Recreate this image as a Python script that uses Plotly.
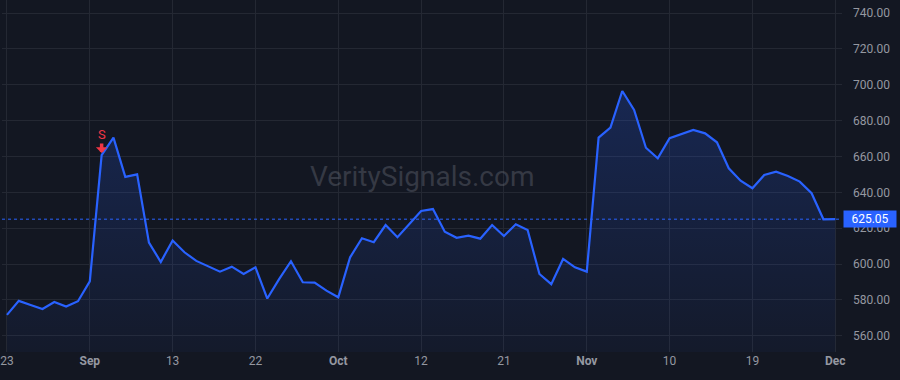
import plotly.graph_objects as go

# ---- data ----
values = [
    571.7, 579.5, 577.2, 575.0, 578.9, 576.3, 579.3, 590.4, 660.8, 670.5,
    648.6, 650.0, 612.0, 601.2, 613.2, 606.6, 601.8, 599.0, 595.8, 598.6,
    594.5, 598.2, 580.8, 591.6, 601.6, 589.9, 589.7, 585.2, 581.5, 603.8,
    614.4, 612.2, 621.8, 615.0, 622.2, 629.6, 630.7, 618.1, 614.7, 615.9,
    614.2, 621.8, 615.7, 622.2, 619.0, 594.5, 588.8, 602.9, 598.2, 595.8,
    670.5, 676.1, 696.5, 685.9, 664.9, 659.0, 670.2, 672.4, 674.8, 672.9,
    667.9, 653.4, 646.5, 642.3, 649.7, 651.5, 649.1, 646.0, 639.5, 625.0,
    625.05,
]
x_idx = list(range(len(values)))
tick_idx = [0, 7, 14, 21, 28, 35, 42, 49, 56, 63, 70]
tick_text = ["23", "<b>Sep</b>", "13", "22", "<b>Oct</b>", "12", "21",
             "<b>Nov</b>", "10", "19", "<b>Dec</b>"]
y_ticks = [560, 580, 600, 620, 640, 660, 680, 700, 720, 740]
last_price = 625.05
signal_idx = [8]
signal_label = ["S"]
watermark = "VeritySignals.com"

BG = "#131722"
GRID = "#242833"
BLUE = "#2962ff"
RED = "#f23645"
TXT = "#9598a1"

fig = go.Figure()
fig.add_trace(go.Scatter(
    x=x_idx, y=values, mode="lines",
    line=dict(color=BLUE, width=2.2),
    fill="tozeroy",
    fillgradient=dict(type="vertical", start=551, stop=700,
                      colorscale=[[0, "rgba(41,98,255,0.04)"],
                                  [1, "rgba(41,98,255,0.22)"]]),
    hoverinfo="skip",
))

fig.add_hline(y=last_price, line=dict(color=BLUE, width=1, dash="dot"))

for i, lab in zip(signal_idx, signal_label):
    fig.add_annotation(x=i, y=values[i], xref="x", yref="y",
                       text="", showarrow=True, ax=0, ay=-13,
                       arrowhead=1, arrowsize=0.55, arrowwidth=3.5,
                       arrowcolor=RED, standoff=2)
    fig.add_annotation(x=i, y=values[i], xref="x", yref="y",
                       text=lab, showarrow=False, yshift=21,
                       font=dict(color=RED, size=13, family="Roboto"))

fig.add_annotation(x=1, y=last_price, xref="paper", yref="y",
                   xanchor="left", text=f"{last_price:.2f}", showarrow=False,
                   bgcolor=BLUE, font=dict(color="white", size=12, family="Roboto"),
                   borderpad=1, xshift=1, width=50, align="center")

fig.add_annotation(x=0.5, y=0.5, xref="paper", yref="paper",
                   text=watermark, showarrow=False,
                   font=dict(color="rgba(120,123,134,0.35)", size=28, family="Roboto"))

fig.update_layout(
    width=900, height=380,
    margin=dict(l=0, r=58, t=0, b=28),
    paper_bgcolor=BG, plot_bgcolor=BG,
    showlegend=False,
    font=dict(family="Roboto", color=TXT, size=12),
    xaxis=dict(
        range=[-0.42, 70.57], tickmode="array", tickvals=tick_idx, ticktext=tick_text,
        showgrid=True, gridcolor=GRID, gridwidth=1, zeroline=False,
        showline=False, ticks="", tickfont=dict(color=TXT, size=12),
        ticklabeloverflow="allow",
    ),
    yaxis=dict(
        side="right", range=[551.0, 747.25], tickvals=y_ticks, tickformat=".2f",
        showgrid=True, gridcolor=GRID, gridwidth=1, zeroline=False,
        showline=False, ticks="", ticklabelstandoff=10,
        tickfont=dict(color=TXT, size=12),
    ),
)

fig.write_html("out.html")
